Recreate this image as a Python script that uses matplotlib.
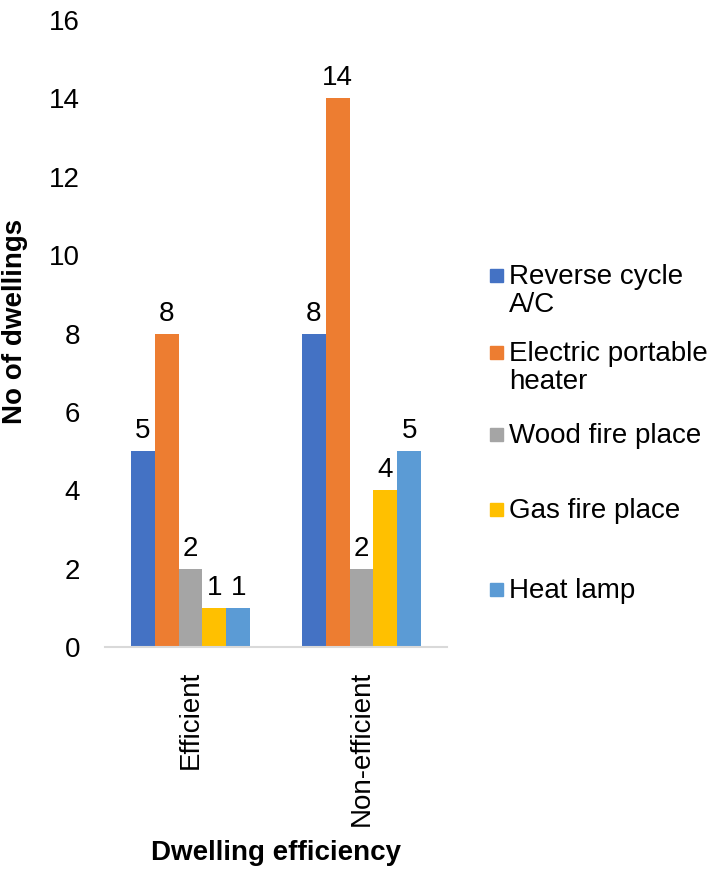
import matplotlib.pyplot as plt
from matplotlib.patches import Rectangle
import numpy as np

plt.rcParams['font.family'] = ['Liberation Sans', 'DejaVu Sans']

categories = ["Efficient", "Non-efficient"]
series = ["Reverse cycle\nA/C", "Electric portable\nheater", "Wood fire place",
          "Gas fire place", "Heat lamp"]
reverse_cycle = [5, 8]
electric_heater = [8, 14]
wood_fire = [2, 2]
gas_fire = [1, 4]
heat_lamp = [1, 5]
values = [reverse_cycle, electric_heater, wood_fire, gas_fire, heat_lamp]
colors = ["#4472C4", "#ED7D31", "#A5A5A5", "#FFC000", "#5B9BD5"]

FS = 20

fig = plt.figure(figsize=(7.18, 8.72), dpi=100)
ax = fig.add_axes([0.1462, 0.258, 0.4764, 0.719])

x = np.arange(len(categories))
w = 0.14
for i, (vals, c) in enumerate(zip(values, colors)):
    bars = ax.bar(x + (i - 2) * w, vals, w, color=c)
    ax.bar_label(bars, padding=5, fontsize=FS)

ax.set_xlim(-0.5, 1.5)
ax.set_ylim(0, 16)
ax.set_yticks(range(0, 17, 2))
ax.set_xticks(x)
ax.set_xticklabels(categories, rotation=90, fontsize=FS)
ax.tick_params(axis='y', length=0, labelsize=FS, pad=18)
ax.tick_params(axis='x', length=0, pad=17)
for s in ['top', 'right', 'left']:
    ax.spines[s].set_visible(False)
ax.spines['bottom'].set_color('#D9D9D9')
ax.spines['bottom'].set_linewidth(1.5)

ax.set_ylabel("No of dwellings", fontsize=FS, fontweight='bold')
ax.yaxis.set_label_coords(-0.225, 0.52)
ax.set_xlabel("Dwelling efficiency", fontsize=FS, fontweight='bold', labelpad=10)

# legend drawn by hand to follow the uneven spacing
leg_y = [275, 352, 434, 509, 589]
for lab, c, yy in zip(series, colors, leg_y):
    fy = 1 - yy / 872
    fig.add_artist(Rectangle((490 / 718, fy - 7 / 872), 13 / 718, 13 / 872,
                             color=c, transform=fig.transFigure))
    fig.text(509 / 718, fy + 11 / 872, lab, fontsize=FS, va='top', ha='left',
             linespacing=1.08)

fig.savefig("out.png", dpi=100)
